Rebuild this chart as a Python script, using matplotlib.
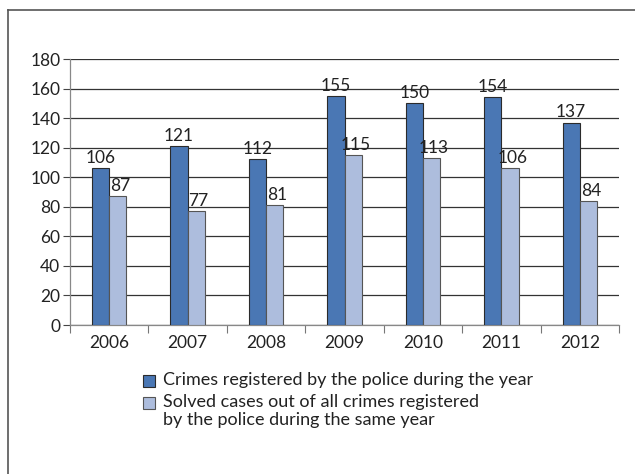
import numpy as np
import matplotlib.pyplot as plt
from matplotlib.patches import Rectangle
from matplotlib.lines import Line2D

plt.rcParams['font.family'] = ['Lato', 'DejaVu Sans']

years = ['2006', '2007', '2008', '2009', '2010', '2011', '2012']
registered = [106, 121, 112, 155, 150, 154, 137]
solved = [87, 77, 81, 115, 113, 106, 84]

label_registered = 'Crimes registered by the police during the year'
label_solved = 'Solved cases out of all crimes registered\nby the police during the same year'

dark = '#4a77b4'
light = '#adbddd'
edge = '#2b2b2b'
fs = 12.5

W, H = 635, 474
fig = plt.figure(figsize=(W / 100, H / 100), dpi=100)
ax = fig.add_axes([70 / W, 1 - 325 / H, (619 - 70) / W, (325 - 59) / H])

x = np.arange(len(years))
bw = 0.22
b1 = ax.bar(x - bw / 2, registered, bw, color=dark, edgecolor=edge, linewidth=0.8, zorder=3)
b2 = ax.bar(x + bw / 2, solved, bw, color=light, edgecolor='#555555', linewidth=0.8, zorder=3)

for rect, v in zip(b1, registered):
    ax.text(rect.get_x() + rect.get_width() / 2, v + 1.5, str(v), ha='center', va='bottom',
            fontsize=fs, color='#222222')
for rect, v in zip(b2, solved):
    ax.text(rect.get_x() + rect.get_width() / 2 + 0.03, v + 1.5, str(v), ha='center', va='bottom',
            fontsize=fs, color='#222222')

ax.set_xlim(-0.5, len(years) - 0.5)
ax.set_ylim(0, 180)
ax.set_yticks(range(0, 181, 20))
ax.tick_params(axis='y', length=5, width=0.8, color='#444444', labelsize=fs,
               labelcolor='#222222', pad=2)
ax.yaxis.grid(True, color='#333333', linewidth=0.9, zorder=0)
ax.set_axisbelow(True)

ax.set_xticks(x)
ax.set_xticklabels(years, fontsize=fs, color='#222222')
ax.tick_params(axis='x', length=0, pad=7)
ax.set_xticks(np.arange(-0.5, len(years), 1.0), minor=True)
ax.tick_params(axis='x', which='minor', length=6, width=0.8, color='#777777')

for s in ['top', 'right']:
    ax.spines[s].set_visible(False)
ax.spines['left'].set_color('#888888')
ax.spines['bottom'].set_color('#888888')
ax.spines['left'].set_linewidth(0.9)
ax.spines['bottom'].set_linewidth(0.9)

# legend drawn by hand
for ypix, col, ec, txt in [(381, dark, edge, label_registered),
                           (403, light, '#555555', label_solved)]:
    fig.add_artist(Rectangle((143 / W, 1 - (ypix + 6) / H), 12 / W, 12 / H,
                             transform=fig.transFigure, facecolor=col,
                             edgecolor=ec, linewidth=0.8))
    fig.text(163 / W, 1 - (ypix - 9) / H, txt, ha='left', va='top', fontsize=13,
             color='#222222', linespacing=1.15)

# outer frame (open on the right and bottom)
fig.add_artist(Line2D([7.5 / W, 7.5 / W], [0, 1 - 9.5 / H], transform=fig.transFigure,
                      color='#555555', linewidth=1.2))
fig.add_artist(Line2D([7.5 / W, 1], [1 - 9.5 / H, 1 - 9.5 / H], transform=fig.transFigure,
                      color='#555555', linewidth=1.2))

fig.savefig('out.png', dpi=100)
